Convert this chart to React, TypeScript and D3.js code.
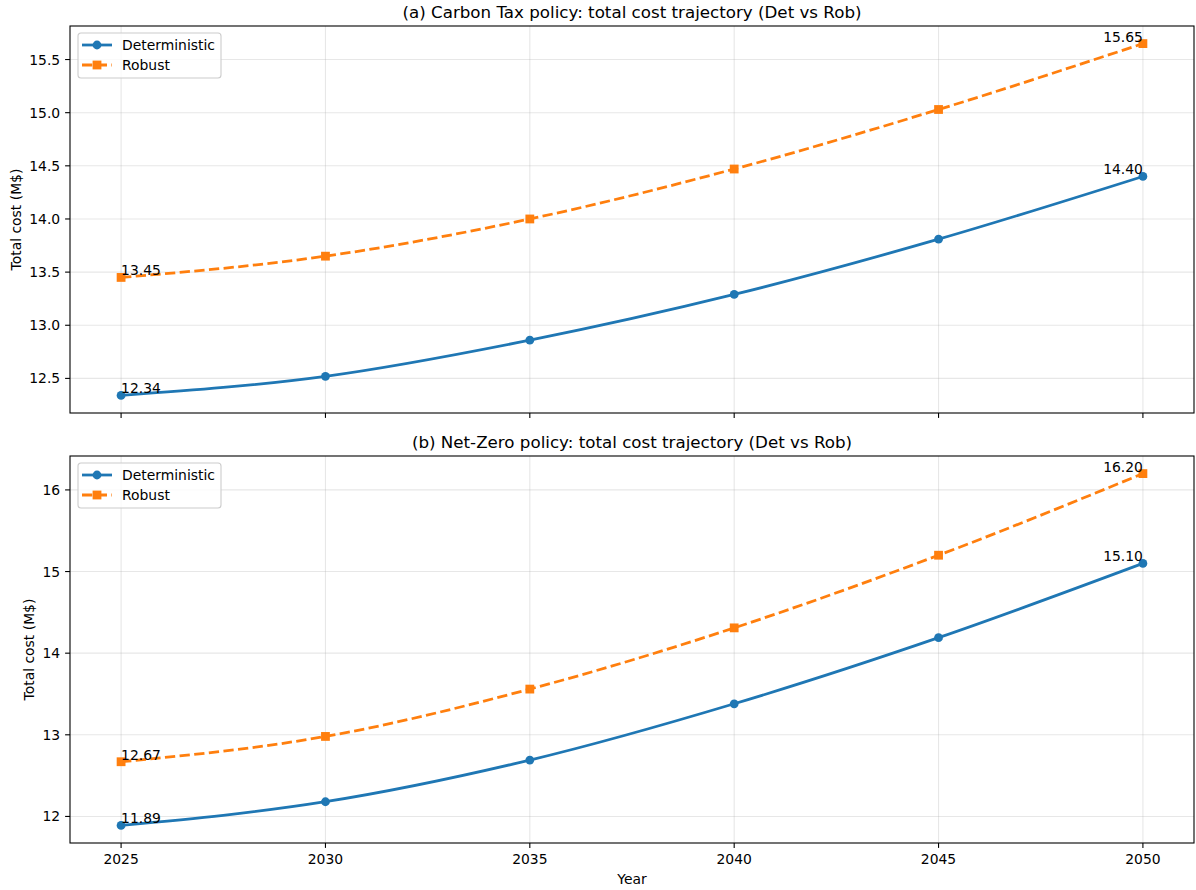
import React from "react";
import * as d3 from "d3";

const years = [2025, 2030, 2035, 2040, 2045, 2050];
const carbonDet = [12.34, 12.52, 12.86, 13.29, 13.81, 14.4];
const carbonRob = [13.45, 13.65, 14.0, 14.47, 15.03, 15.65];
const netZeroDet = [11.89, 12.18, 12.69, 13.38, 14.19, 15.1];
const netZeroRob = [12.67, 12.98, 13.56, 14.31, 15.2, 16.2];
const carbonTicks = [12.5, 13.0, 13.5, 14.0, 14.5, 15.0, 15.5];
const netZeroTicks = [12, 13, 14, 15, 16];
const xTicks = [2025, 2030, 2035, 2040, 2045, 2050];
const titles = [
  "(a) Carbon Tax policy: total cost trajectory (Det vs Rob)",
  "(b) Net-Zero policy: total cost trajectory (Det vs Rob)",
];
const seriesNames = ["Deterministic", "Robust"];

const W = 1196;
const H = 890;
const FONT = "DejaVu Sans, sans-serif";
const BLUE = "#1f77b4";
const ORANGE = "#ff7f0e";
const LEFT = 70;
const RIGHT = 1194;

const xScale = d3
  .scaleLinear()
  .domain([2025 - 1.25, 2050 + 1.25])
  .range([LEFT, RIGHT]);

function Panel({
  top,
  bottom,
  det,
  rob,
  ticks,
  fmt,
  title,
  showXLabels,
  ylabelX,
}: {
  top: number;
  bottom: number;
  det: number[];
  rob: number[];
  ticks: number[];
  fmt: (v: number) => string;
  title: string;
  showXLabels: boolean;
  ylabelX: number;
}) {
  const all = det.concat(rob);
  const mn = d3.min(all)!;
  const mx = d3.max(all)!;
  const m = (mx - mn) * 0.05;
  const y = d3.scaleLinear().domain([mn - m, mx + m]).range([bottom, top]);
  const line = d3
    .line<number>()
    .x((_, i) => xScale(years[i]))
    .y((d) => y(d))
    .curve(d3.curveMonotoneX);
  const lw = 2.78;
  const r = 4.4;
  const sq = 8.8;
  const labels = [
    { v: det[0], x: years[0], anchor: "start" },
    { v: rob[0], x: years[0], anchor: "start" },
    { v: det[det.length - 1], x: years[years.length - 1], anchor: "end" },
    { v: rob[rob.length - 1], x: years[years.length - 1], anchor: "end" },
  ];
  const midX = (LEFT + RIGHT) / 2;
  return (
    <g>
      {ticks.map((t) => (
        <line
          key={"gy" + t}
          x1={LEFT}
          x2={RIGHT}
          y1={y(t)}
          y2={y(t)}
          stroke="#b0b0b0"
          strokeOpacity={0.3}
          strokeWidth={1.1}
        />
      ))}
      {xTicks.map((t) => (
        <line
          key={"gx" + t}
          x1={xScale(t)}
          x2={xScale(t)}
          y1={top}
          y2={bottom}
          stroke="#b0b0b0"
          strokeOpacity={0.3}
          strokeWidth={1.1}
        />
      ))}
      <path d={line(det)!} fill="none" stroke={BLUE} strokeWidth={lw} />
      <path
        d={line(rob)!}
        fill="none"
        stroke={ORANGE}
        strokeWidth={lw}
        strokeDasharray="10.3,4.4"
      />
      {det.map((v, i) => (
        <circle key={"d" + i} cx={xScale(years[i])} cy={y(v)} r={r} fill={BLUE} />
      ))}
      {rob.map((v, i) => (
        <rect
          key={"r" + i}
          x={xScale(years[i]) - sq / 2}
          y={y(v) - sq / 2}
          width={sq}
          height={sq}
          fill={ORANGE}
        />
      ))}
      {labels.map((l, i) => (
        <text
          key={"l" + i}
          x={xScale(l.x)}
          y={y(l.v) - 2}
          textAnchor={l.anchor}
          fontSize={13.9}
          fontFamily={FONT}
          fill="#000"
        >
          {l.v.toFixed(2)}
        </text>
      ))}
      <rect
        x={LEFT}
        y={top}
        width={RIGHT - LEFT}
        height={bottom - top}
        fill="none"
        stroke="#000"
        strokeWidth={1.1}
      />
      {ticks.map((t) => (
        <g key={"yt" + t}>
          <line x1={LEFT - 4.9} x2={LEFT} y1={y(t)} y2={y(t)} stroke="#000" strokeWidth={1.1} />
          <text
            x={LEFT - 9.8}
            y={y(t)}
            dy="0.36em"
            textAnchor="end"
            fontSize={13.9}
            fontFamily={FONT}
            fill="#000"
          >
            {fmt(t)}
          </text>
        </g>
      ))}
      {xTicks.map((t) => (
        <g key={"xt" + t}>
          <line
            x1={xScale(t)}
            x2={xScale(t)}
            y1={bottom}
            y2={bottom + 4.9}
            stroke="#000"
            strokeWidth={1.1}
          />
          {showXLabels && (
            <text
              x={xScale(t)}
              y={bottom + 9.8}
              dy="0.8em"
              textAnchor="middle"
              fontSize={13.9}
              fontFamily={FONT}
              fill="#000"
            >
              {t}
            </text>
          )}
        </g>
      ))}
      <text
        x={midX}
        y={top - 8}
        textAnchor="middle"
        fontSize={16.7}
        fontFamily={FONT}
        fill="#000"
      >
        {title}
      </text>
      <text
        transform={`translate(${ylabelX},${(top + bottom) / 2}) rotate(-90)`}
        textAnchor="middle"
        fontSize={13.9}
        fontFamily={FONT}
        fill="#000"
      >
        Total cost (M$)
      </text>
      <g transform={`translate(${LEFT + 8},${top + 7})`}>
        <rect
          x={0}
          y={0}
          width={143}
          height={45}
          rx={3}
          fill="#fff"
          fillOpacity={0.8}
          stroke="#cccccc"
          strokeWidth={1.1}
        />
        <line x1={4} x2={34} y1={12} y2={12} stroke={BLUE} strokeWidth={lw} />
        <circle cx={19} cy={12} r={r} fill={BLUE} />
        <text x={44} y={12} dy="0.36em" fontSize={13.9} fontFamily={FONT} fill="#000">
          {seriesNames[0]}
        </text>
        <line
          x1={4}
          x2={34}
          y1={32}
          y2={32}
          stroke={ORANGE}
          strokeWidth={lw}
          strokeDasharray="10.3,4.4"
        />
        <rect x={19 - sq / 2} y={32 - sq / 2} width={sq} height={sq} fill={ORANGE} />
        <text x={44} y={32} dy="0.36em" fontSize={13.9} fontFamily={FONT} fill="#000">
          {seriesNames[1]}
        </text>
      </g>
    </g>
  );
}

export default function App() {
  return (
    <svg
      width={W}
      height={H}
      style={{ position: "absolute", left: 0, top: 0, background: "#fff" }}
    >
      <rect width={W} height={H} fill="#fff" />
      <Panel
        top={26}
        bottom={413}
        det={carbonDet}
        rob={carbonRob}
        ticks={carbonTicks}
        fmt={(v) => v.toFixed(1)}
        title={titles[0]}
        showXLabels={false}
        ylabelX={21}
      />
      <Panel
        top={456}
        bottom={843}
        det={netZeroDet}
        rob={netZeroRob}
        ticks={netZeroTicks}
        fmt={(v) => String(v)}
        title={titles[1]}
        showXLabels={true}
        ylabelX={34}
      />
      <text
        x={(LEFT + RIGHT) / 2}
        y={884}
        textAnchor="middle"
        fontSize={13.9}
        fontFamily={FONT}
        fill="#000"
      >
        Year
      </text>
    </svg>
  );
}
